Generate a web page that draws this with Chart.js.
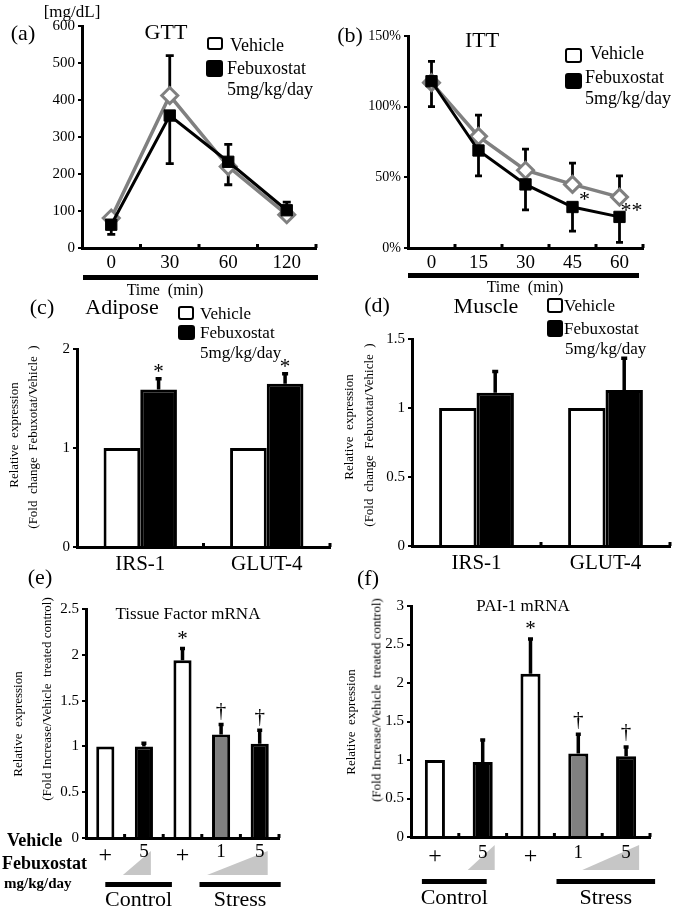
<!DOCTYPE html>
<html>
<head>
<meta charset="utf-8">
<script src="https://cdn.jsdelivr.net/npm/chart.js@4/dist/chart.umd.min.js"></script>
<style>
  body { margin: 0; background: #fff; }
  #fig { position: relative; width: 675px; height: 909px; overflow: hidden; background: #fff;
         font-family: "Liberation Serif", "Times New Roman", serif; color: #000; }
  .t { position: absolute; white-space: pre; line-height: 1; }
  .sw { position: absolute; box-sizing: border-box; border: 2.5px solid #000; border-radius: 3px; }
  .rule { position: absolute; background: #000; }
</style>
</head>
<body>
<div id="fig"></div>
<script>
// ---- data ----
const gttTimes = ['0', '30', '60', '120'];
const gttVehicle = [81, 412, 220, 90];
const gttFebux = [63, 358, 233, 102];
const gttVehicleErr = [12, 108, 60, 34];
const gttFebuxErr = [26, 130, 62, 12];

const ittTimes = ['0', '15', '30', '45', '60'];
const ittVehicle = [117, 79, 55, 45, 36];
const ittFebux = [118, 69, 45, 29, 22];
const ittVehicleErr = [15, 15, 15, 15, 15];
const ittFebuxErr = [18, 18, 18, 17, 18];
const ittMarks = ['', '', '', '*', '**'];

const genes = ['IRS-1', 'GLUT-4'];
const adiposeVehicle = [1, 1];
const adiposeFebux = [1.59, 1.65];
const adiposeFebuxErr = [0.11, 0.10];
const adiposeMarks = ['*', '*'];
const muscleVehicle = [1, 1];
const muscleFebux = [1.11, 1.13];
const muscleFebuxErr = [0.155, 0.23];

const doseLabels = ['+', '5', '+', '1', '5'];
const groupNames = ['Control', 'Stress'];
const tfValues = [1, 1.0, 1.94, 1.13, 1.03];
const tfErr = [0, 0.035, 0.13, 0.11, 0.145];
const tfMarks = ['', '', '*', '\u2020', '\u2020'];
const paiValues = [1, 0.975, 2.12, 1.085, 1.05];
const paiErr = [0, 0.285, 0.45, 0.25, 0.12];
const paiMarks = ['', '', '*', '\u2020', '\u2020'];

const FONT = '"Liberation Serif", "Times New Roman", serif';
Chart.defaults.font.family = FONT;
Chart.defaults.color = '#000';
const fig = document.getElementById('fig');
const doseColors = ['#fff', '#000', '#fff', '#808080', '#000'];

// ---- html helpers ----
function text(str, x, y, size, opt = {}) {
  const d = document.createElement('div');
  d.className = 't';
  d.textContent = str;
  d.style.left = x + 'px';
  d.style.top = y + 'px';
  d.style.fontSize = size + 'px';
  if (opt.bold) d.style.fontWeight = 'bold';
  const ax = opt.left ? '0' : '-50%';
  d.style.transform = `translate(${ax}, -50%)` + (opt.rotate ? ' rotate(-90deg)' : '');
  fig.appendChild(d);
}
function swatch(x, y, w, h, fill) {
  const d = document.createElement('div');
  d.className = 'sw';
  d.style.cssText += `left:${x}px;top:${y - h / 2}px;width:${w}px;height:${h}px;background:${fill}`;
  fig.appendChild(d);
}
function rule(x, y, w, h) {
  const d = document.createElement('div');
  d.className = 'rule';
  d.style.cssText += `left:${x}px;top:${y}px;width:${w}px;height:${h}px`;
  fig.appendChild(d);
}

// ---- plugins ----
const errorBars = {
  id: 'errorBars',
  beforeDatasetsDraw(chart, args, o) {
    const ctx = chart.ctx, ys = chart.scales.y;
    chart.data.datasets.forEach((ds, di) => {
      const meta = chart.getDatasetMeta(di);
      [['errUp', 1], ['errDown', -1]].forEach(([key, sign]) => {
        const errs = ds[key];
        if (!errs) return;
        meta.data.forEach((el, i) => {
          if (!errs[i]) return;
          const y0 = ys.getPixelForValue(ds.data[i]);
          const y1 = ys.getPixelForValue(ds.data[i] + sign * errs[i]);
          ctx.save();
          ctx.strokeStyle = '#000';
          ctx.lineWidth = o.width || 3;
          ctx.beginPath();
          ctx.moveTo(el.x, y0); ctx.lineTo(el.x, y1);
          ctx.moveTo(el.x - o.cap / 2, y1); ctx.lineTo(el.x + o.cap / 2, y1);
          ctx.stroke();
          ctx.restore();
        });
      });
    });
  }
};

const marks = {
  id: 'marks',
  afterDatasetsDraw(chart, args, o) {
    if (!o.labels) return;
    const ctx = chart.ctx, ys = chart.scales.y;
    ctx.save();
    ctx.fillStyle = '#000';
    ctx.font = (o.size || 18) + 'px ' + FONT;
    ctx.textAlign = 'center';
    ctx.textBaseline = 'alphabetic';
    o.labels.forEach((t, i) => {
      if (!t) return;
      let x, cy;
      if (o.mode === 'between') {
        const a = chart.getDatasetMeta(0).data[i], b = chart.getDatasetMeta(1).data[i];
        x = a.x + o.dx;
        cy = (a.y + b.y) / 2;
      } else {
        const ds = chart.data.datasets[o.dataset || 0];
        const el = chart.getDatasetMeta(o.dataset || 0).data[i];
        const top = ds.data[i] + ((ds.errUp && ds.errUp[i]) || 0);
        x = el.x;
        cy = ys.getPixelForValue(top) - o.gap;
      }
      const m = ctx.measureText(t);
      ctx.fillText(t, x, cy + (m.actualBoundingBoxAscent - m.actualBoundingBoxDescent) / 2);
    });
    ctx.restore();
  }
};

const innerTicks = {
  id: 'innerTicks',
  afterDatasetsDraw(chart, args, o) {
    if (!o.len) return;
    const xs = chart.scales.x, ctx = chart.ctx, y0 = chart.chartArea.bottom;
    const step = xs.getPixelForValue(1) - xs.getPixelForValue(0);
    ctx.save();
    ctx.strokeStyle = '#000';
    ctx.lineWidth = o.width;
    for (let i = 0; i < xs.ticks.length; i++) {
      const px = xs.getPixelForValue(i) + step / 2;
      ctx.beginPath(); ctx.moveTo(px, y0); ctx.lineTo(px, y0 - o.len); ctx.stroke();
    }
    ctx.restore();
  }
};

const doseDeco = {
  id: 'doseDeco',
  beforeDraw(chart, args, o) {
    if (!o.ramps) return;
    const ctx = chart.ctx, xs = chart.scales.x, base = chart.chartArea.bottom;
    ctx.save();
    ctx.fillStyle = '#c6c6c6';
    o.ramps.forEach(r => {
      const x0 = xs.getPixelForValue(r.from) + r.l, x1 = xs.getPixelForValue(r.to) + r.r;
      ctx.beginPath();
      ctx.moveTo(x0, base + o.rampBottom);
      ctx.lineTo(x1, base + o.rampBottom);
      ctx.lineTo(x1, base + o.rampTop);
      ctx.closePath();
      ctx.fill();
    });
    ctx.fillStyle = '#000';
    ctx.font = '22px ' + FONT;
    ctx.textAlign = 'center';
    ctx.textBaseline = 'middle';
    o.groups.forEach((g, gi) => {
      const x0 = xs.getPixelForValue(g.from) + g.l, x1 = xs.getPixelForValue(g.to) + g.r;
      ctx.fillRect(x0, base + o.barY - 2.5, x1 - x0, 5);
      ctx.fillText(groupNames[gi], (x0 + x1) / 2, base + o.textY);
    });
    ctx.restore();
  }
};

// ---- chart helpers ----
function yAxis(max, step, width, size, fmt) {
  return {
    min: 0, max,
    ticks: { stepSize: step, font: { size }, padding: 3, color: '#000', callback: fmt || (v => String(v)) },
    grid: { drawOnChartArea: false, drawTicks: true, tickLength: 4, color: '#000', lineWidth: 2 },
    border: { color: '#000', width: 3 },
    afterFit: s => { s.width = width; }
  };
}
function xAxis(height, size, padding) {
  return {
    offset: true,
    grid: { display: false, drawTicks: false },
    border: { color: '#000', width: 3 },
    ticks: { font: typeof size === 'function' ? size : { size }, padding, color: '#000', autoSkip: false, maxRotation: 0 },
    afterFit: s => { s.height = height; }
  };
}
function panel(x, y, w, h, config) {
  const c = document.createElement('canvas');
  c.width = w; c.height = h;
  c.style.cssText = `position:absolute;left:${x}px;top:${y}px;width:${w}px;height:${h}px`;
  fig.appendChild(c);
  config.plugins = [errorBars, marks, innerTicks, doseDeco];
  config.options.responsive = false;
  config.options.animation = false;
  config.options.devicePixelRatio = 1;
  config.options.plugins = Object.assign({ legend: { display: false }, tooltip: { enabled: false } }, config.options.plugins);
  return new Chart(c, config);
}
function lineSets(vehicle, febux, vErr, fErr) {
  return [
    { data: vehicle, errUp: vErr, order: 1, borderColor: '#808080', borderWidth: 3.5,
      pointStyle: 'rectRot', pointRadius: 8, pointBackgroundColor: '#fff',
      pointBorderColor: '#808080', pointBorderWidth: 3, tension: 0 },
    { data: febux, errDown: fErr, order: 0, borderColor: '#000', borderWidth: 3,
      pointStyle: 'rect', pointRadius: 8, pointBackgroundColor: '#000',
      pointBorderColor: '#000', pointBorderWidth: 1, tension: 0 }
  ];
}
function pairSets(vehicle, febux, fErr) {
  return [
    { data: vehicle, backgroundColor: '#fff', borderColor: '#000', borderWidth: 3,
      barPercentage: 1, categoryPercentage: 0.58 },
    { data: febux, errUp: fErr, backgroundColor: '#000', borderColor: '#000', borderWidth: 3,
      barPercentage: 1, categoryPercentage: 0.58 }
  ];
}

// (a) GTT
panel(0, 0, 335, 300, {
  type: 'line',
  data: { labels: gttTimes, datasets: lineSets(gttVehicle, gttFebux, gttVehicleErr, gttFebuxErr) },
  options: {
    layout: { padding: { top: 26, right: 19, left: 0, bottom: 0 } },
    scales: { x: xAxis(52, 19, 4), y: yAxis(600, 100, 82, 15) },
    plugins: { errorBars: { cap: 8, width: 2.8 }, innerTicks: { len: 4, width: 3 } }
  }
});

// (b) ITT
panel(335, 0, 340, 300, {
  type: 'line',
  data: { labels: ittTimes, datasets: lineSets(ittVehicle, ittFebux, ittVehicleErr, ittFebuxErr) },
  options: {
    layout: { padding: { top: 36, right: 32, left: 0, bottom: 0 } },
    scales: { x: xAxis(52, 19, 4), y: yAxis(150, 50, 73, 14, v => v + '%') },
    plugins: { errorBars: { cap: 7, width: 2.8 }, innerTicks: { len: 4, width: 3 },
               marks: { labels: ittMarks, mode: 'between', dx: 12, size: 22 } }
  }
});

// (c) Adipose
panel(0, 270, 335, 320, {
  type: 'bar',
  data: { labels: genes, datasets: pairSets(adiposeVehicle, adiposeFebux, adiposeFebuxErr) },
  options: {
    layout: { padding: { top: 79, right: 5, left: 0, bottom: 0 } },
    scales: { x: xAxis(43, 21, 5), y: yAxis(2, 1, 77, 15) },
    plugins: { errorBars: { cap: 6, width: 3.5 }, innerTicks: { len: 4, width: 3 },
               marks: { labels: adiposeMarks, dataset: 1, gap: 11, size: 21 } }
  }
});

// (d) Muscle
panel(335, 270, 340, 320, {
  type: 'bar',
  data: { labels: genes, datasets: pairSets(muscleVehicle, muscleFebux, muscleFebuxErr) },
  options: {
    layout: { padding: { top: 69, right: 5, left: 0, bottom: 0 } },
    scales: { x: xAxis(44, 21, 5), y: yAxis(1.5, 0.5, 77, 15) },
    plugins: { errorBars: { cap: 6, width: 3.5 }, innerTicks: { len: 4, width: 3 } }
  }
});

const doseFont = c => ({ size: doseLabels[c.index] === '+' ? 24 : 19 });

// (e) Tissue Factor
panel(0, 570, 335, 339, {
  type: 'bar',
  data: { labels: doseLabels, datasets: [{ data: tfValues, errUp: tfErr, backgroundColor: doseColors,
    borderColor: '#000', borderWidth: 3, barPercentage: 0.47, categoryPercentage: 1 }] },
  options: {
    layout: { padding: { top: 39, right: 56, left: 0, bottom: 0 } },
    scales: { x: xAxis(71, doseFont, 3), y: yAxis(2.5, 0.5, 86, 15) },
    plugins: { errorBars: { cap: 5, width: 3.5 }, innerTicks: { len: 4, width: 3 },
               marks: { labels: tfMarks, dataset: 0, gap: 13, size: 21 },
               doseDeco: { rampTop: 13, rampBottom: 37, barY: 46.5, textY: 62,
                 ramps: [{ from: 1, to: 1, l: -21, r: 7 }, { from: 3, to: 4, l: -14, r: 8 }],
                 groups: [{ from: 0, to: 1, l: 0, r: 28 }, { from: 2, to: 4, l: 17, r: 21 }] } }
  }
});

// (f) PAI-1
panel(335, 570, 340, 339, {
  type: 'bar',
  data: { labels: doseLabels, datasets: [{ data: paiValues, errUp: paiErr, backgroundColor: doseColors,
    borderColor: '#000', borderWidth: 3, barPercentage: 0.42, categoryPercentage: 1 }] },
  options: {
    layout: { padding: { top: 36, right: 25, left: 0, bottom: 0 } },
    scales: { x: xAxis(72, doseFont, 5), y: yAxis(3, 0.5, 76, 15) },
    plugins: { errorBars: { cap: 5, width: 3.5 }, innerTicks: { len: 4, width: 3 },
               marks: { labels: paiMarks, dataset: 0, gap: 14, size: 21 },
               doseDeco: { rampTop: 8, rampBottom: 33, barY: 44.5, textY: 61,
                 ramps: [{ from: 1, to: 1, l: -15, r: 12 }, { from: 3, to: 4, l: 4, r: 13 }],
                 groups: [{ from: 0, to: 1, l: -13, r: 4 }, { from: 2, to: 4, l: 26, r: 29 }] } }
  }
});

// ---- annotation text ----
// (a)
text('[mg/dL]', 72, 11, 17);
text('(a)', 23, 33, 22);
text('GTT', 166, 32, 22);
swatch(207, 43, 16, 13, '#fff');
swatch(206, 68, 17, 17, '#000');
text('Vehicle', 230, 45, 18, { left: true });
text('Febuxostat', 227, 68, 18, { left: true });
text('5mg/kg/day', 227, 89, 18, { left: true });
rule(83, 275, 235, 4.5);
text('Time  (min)', 165, 290, 16);

// (b)
text('(b)', 350, 35, 22);
text('ITT', 482, 40, 22);
swatch(565, 55, 17, 15, '#fff');
swatch(565, 81, 17, 16, '#000');
text('Vehicle', 590, 53, 18, { left: true });
text('Febuxostat', 585, 77, 18, { left: true });
text('5mg/kg/day', 585, 98, 18, { left: true });
rule(408, 273, 231, 4.5);
text('Time  (min)', 525, 287, 16);

// (c)
text('(c)', 42, 307, 22);
text('Adipose', 122, 307, 22);
swatch(178, 313, 16, 14, '#fff');
swatch(178, 332, 17, 15, '#000');
text('Vehicle', 200, 313, 17, { left: true });
text('Febuxostat', 200, 332, 17, { left: true });
text('5mg/kg/day', 200, 352, 17, { left: true });
text('Relative  expression', 13, 435, 13, { rotate: true });
text('(Fold  change  Febuxotat/Vehicle  )', 32, 437, 13, { rotate: true });

// (d)
text('(d)', 377, 305, 22);
text('Muscle', 486, 306, 22);
swatch(547, 305, 16, 15, '#fff');
swatch(547, 328, 16, 17, '#000');
text('Vehicle', 564, 305, 17, { left: true });
text('Febuxostat', 564, 328, 17, { left: true });
text('5mg/kg/day', 565, 348, 17, { left: true });
text('Relative  expression', 348, 427, 13, { rotate: true });
text('(Fold  change  Febuxotat/Vehicle  )', 368, 435, 13, { rotate: true });

// (e)
text('(e)', 40, 577, 22);
text('Tissue Factor mRNA', 188, 613, 17);
text('Relative  expression', 17, 724, 13, { rotate: true });
text('(Fold Increase/Vehicle  treated control)', 46, 699, 13, { rotate: true });
text('Vehicle', 7, 840, 18, { left: true, bold: true });
text('Febuxostat', 2, 863, 18, { left: true, bold: true });
text('mg/kg/day', 4, 883, 15, { left: true, bold: true });

// (f)
text('(f)', 368, 578, 22);
text('PAI-1 mRNA', 523, 605, 17);
text('Relative  expression', 350, 722, 13, { rotate: true });
text('(Fold Increase/Vehicle  treated control)', 376, 700, 13, { rotate: true });
</script>
</body>
</html>
